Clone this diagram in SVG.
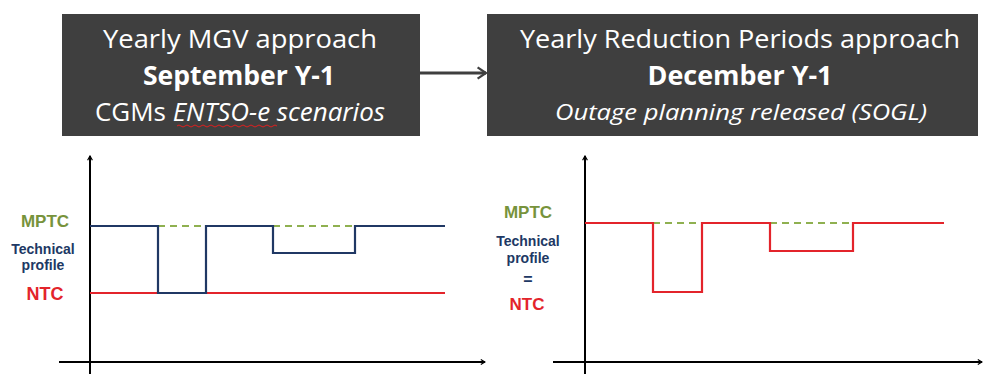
<svg xmlns="http://www.w3.org/2000/svg" width="983" height="374" viewBox="0 0 983 374">
<defs>
<style>
.box{fill:#3f3f3f}
.t{fill:#ffffff;font-family:"Open Sans","Liberation Sans",sans-serif;text-anchor:middle}
.axis{stroke:#000;stroke-width:2;fill:none}
.blue{stroke:#203864;stroke-width:2.2;fill:none}
.red{stroke:#e3242b;stroke-width:2.2;fill:none}
.dash{stroke:#8fb050;stroke-width:2;stroke-dasharray:7,5;fill:none}
.lbl{font-family:"Liberation Sans",Arial,sans-serif;font-weight:bold;text-anchor:middle}
</style>
<marker id="ah" viewBox="0 0 10 10" refX="8" refY="5" markerWidth="6" markerHeight="6" orient="auto" markerUnits="userSpaceOnUse">
<path d="M1,1 L8,5 L1,9" fill="none" stroke="#000" stroke-width="2"/>
</marker>
<marker id="ah2" viewBox="0 0 10 10" refX="8" refY="5" markerWidth="14" markerHeight="14" orient="auto" markerUnits="userSpaceOnUse">
<path d="M2,1 L8,5 L2,9" fill="none" stroke="#3f3f3f" stroke-width="1.6"/>
</marker>
</defs>
<g id="box-left">
<rect class="box" x="62" y="14" width="358" height="122"/>
<text class="t" x="240" y="48" font-size="26" textLength="274" lengthAdjust="spacingAndGlyphs">Yearly MGV approach</text>
<text class="t" x="239" y="85" font-size="26" font-weight="bold" textLength="192" lengthAdjust="spacingAndGlyphs">September Y-1</text>
<text class="t" x="240" y="121" font-size="25" textLength="290" lengthAdjust="spacingAndGlyphs">CGMs <tspan font-style="italic">ENTSO-e scenarios</tspan></text>
<path d="M177,126 q2,-2 4,0 t4,0 t4,0 t4,0 t4,0 t4,0 t4,0 t4,0 t4,0 t4,0 t4,0 t4,0 t4,0 t4,0 t4,0 t4,0 t4,0 t4,0 t4,0 t4,0 t4,0 t4,0 t4,0 t4,0 t4,0" fill="none" stroke="#e02020" stroke-width="1"/>
</g>
<g id="box-right">
<rect class="box" x="487" y="14" width="491" height="122"/>
<text class="t" x="740" y="48" font-size="26" textLength="440" lengthAdjust="spacingAndGlyphs">Yearly Reduction Periods approach</text>
<text class="t" x="740" y="85" font-size="26" font-weight="bold" textLength="185" lengthAdjust="spacingAndGlyphs">December Y-1</text>
<text class="t" x="741" y="120" font-size="22" font-style="italic" textLength="372" lengthAdjust="spacingAndGlyphs">Outage planning released (SOGL)</text>
</g>
<g id="connectors">
<line x1="420" y1="73" x2="486" y2="73" stroke="#3f3f3f" stroke-width="3" marker-end="url(#ah2)"/>
</g>
<g id="chart-left">
<line class="axis" x1="90" y1="374" x2="90" y2="156" marker-end="url(#ah)"/>
<line class="axis" x1="59" y1="362" x2="485" y2="362" marker-end="url(#ah)"/>
<line class="dash" x1="158" y1="226" x2="206" y2="226"/>
<line class="dash" x1="273" y1="226" x2="355" y2="226"/>
<line class="red" x1="90" y1="293" x2="445" y2="293"/>
<polyline class="blue" points="90,226 158,226 158,293 206,293 206,226 273,226 273,253 355,253 355,226 445,226"/>
<text class="lbl" x="45" y="227" font-size="17" fill="#77933c">MPTC</text>
<text class="lbl" x="43" y="254" font-size="14" fill="#203864">Technical</text>
<text class="lbl" x="43" y="270" font-size="14" fill="#203864">profile</text>
<text class="lbl" x="45" y="300" font-size="18" fill="#e3242b">NTC</text>
</g>
<g id="chart-right">
<line class="axis" x1="585" y1="374" x2="585" y2="156" marker-end="url(#ah)"/>
<line class="axis" x1="553" y1="362" x2="982" y2="362" marker-end="url(#ah)"/>
<line class="dash" x1="653" y1="223" x2="702" y2="223"/>
<line class="dash" x1="770" y1="223" x2="853" y2="223"/>
<polyline class="red" points="585,223 653,223 653,292 702,292 702,223 770,223 770,251 853,251 853,223 944,223"/>
<text class="lbl" x="528" y="218" font-size="17" fill="#77933c">MPTC</text>
<text class="lbl" x="528" y="246" font-size="14" fill="#203864">Technical</text>
<text class="lbl" x="528" y="263" font-size="14" fill="#203864">profile</text>
<text class="lbl" x="528" y="285" font-size="16" fill="#203864">=</text>
<text class="lbl" x="527" y="310" font-size="17" fill="#e3242b">NTC</text>
</g>
</svg>
